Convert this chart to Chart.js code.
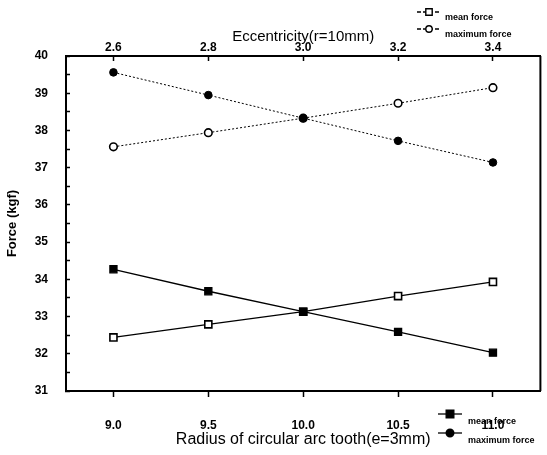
<!DOCTYPE html>
<html>
<head>
<meta charset="utf-8">
<script src="https://cdn.jsdelivr.net/npm/chart.js@4/dist/chart.umd.min.js"></script>
<style>
  html, body { margin: 0; padding: 0; background: #fff; }
  #wrap { width: 547px; height: 455px; position: relative; }
</style>
</head>
<body>
<div id="wrap"><canvas id="forceChart"></canvas></div>
<script>
// Data
// ----------------------------------------------
const radius        = [9.0, 9.5, 10.0, 10.5, 11.0];   // bottom axis, mm
const eccentricity  = [2.6, 2.8, 3.0, 3.2, 3.4];      // top axis, mm
const meanByRadius  = [34.27, 33.68, 33.13, 32.59, 32.03];
const maxByRadius   = [39.56, 38.95, 38.33, 37.72, 37.14];
const meanByEcc     = [32.44, 32.79, 33.13, 33.55, 33.93];
const maxByEcc      = [37.56, 37.94, 38.33, 38.73, 39.15];
const forceTicks    = [31, 32, 33, 34, 35, 36, 37, 38, 39, 40];

const ink      = "#000";
const family   = "'Liberation Sans', Arial, sans-serif";
const tickFont = { family: family, size: 12, weight: "bold" };

const toPoints = (xs, ys) => xs.map((x, i) => ({ x: x, y: ys[i] }));

const datasets = [
    { label: "mean force", xAxisID: "x", data: toPoints(radius, meanByRadius),
      borderColor: ink, backgroundColor: ink, borderWidth: 1.3,
      pointStyle: "rect", pointRadius: 5, legendGroup: "bottom" },
    { label: "maximum force", xAxisID: "x", data: toPoints(radius, maxByRadius),
      borderColor: ink, backgroundColor: ink, borderWidth: 1, borderDash: [2, 2],
      pointStyle: "circle", pointRadius: 3.8, legendGroup: "bottom" },
    { label: "mean force", xAxisID: "x2", data: toPoints(eccentricity, meanByEcc),
      borderColor: ink, backgroundColor: "#fff", borderWidth: 1.3, pointBorderWidth: 1.6,
      pointStyle: "rect", pointRadius: 5, legendGroup: "top" },
    { label: "maximum force", xAxisID: "x2", data: toPoints(eccentricity, maxByEcc),
      borderColor: ink, backgroundColor: "#fff", borderWidth: 1, borderDash: [2, 2], pointBorderWidth: 1.6,
      pointStyle: "circle", pointRadius: 3.8, legendGroup: "top" }
];

// Frame on the right side of the plot area
const framePlugin = {
    id: "frame",
    afterDraw(chart) {
        const { ctx, chartArea: a } = chart;
        ctx.save();
        ctx.strokeStyle = ink;
        ctx.lineWidth = 2;
        ctx.beginPath();
        ctx.moveTo(a.right, a.top);
        ctx.lineTo(a.right, a.bottom);
        ctx.stroke();
        ctx.restore();
    }
};

// Two small legends: top-right (open markers), bottom-right (filled markers)
const legendSpots = {
    top:    { x: 429, y: 12, dy: 17, textX: 445, textDy: 6 },
    bottom: { x: 450, y: 414, dy: 19, textX: 468, textDy: 8 }
};

function drawMarker(ctx, ds, x, y, r) {
    ctx.beginPath();
    if (ds.pointStyle === "rect") {
        ctx.rect(x - r, y - r, 2 * r, 2 * r);
    } else {
        ctx.arc(x, y, r, 0, Math.PI * 2);
    }
    ctx.fillStyle = ds.backgroundColor;
    ctx.fill();
    ctx.lineWidth = 1.4;
    ctx.strokeStyle = ds.borderColor;
    ctx.stroke();
}

const legendPlugin = {
    id: "twoLegends",
    afterDraw(chart) {
        const ctx = chart.ctx;
        ctx.save();
        Object.keys(legendSpots).forEach(group => {
            const spot = legendSpots[group];
            chart.data.datasets.filter(ds => ds.legendGroup === group).forEach((ds, i) => {
                const y = spot.y + i * spot.dy;
                ctx.strokeStyle = ink;
                ctx.lineWidth = 1.3;
                ctx.setLineDash(group === "top" ? [4, 2] : []);
                ctx.beginPath();
                ctx.moveTo(spot.x - 12, y);
                ctx.lineTo(spot.x + 12, y);
                ctx.stroke();
                ctx.setLineDash([]);
                drawMarker(ctx, ds, spot.x, y, group === "top" ? 3.2 : 3.8);
                ctx.fillStyle = ink;
                ctx.font = "bold 9px " + family;
                ctx.textBaseline = "middle";
                ctx.textAlign = "left";
                ctx.fillText(ds.label, spot.textX, y + spot.textDy);
            });
        });
        ctx.restore();
    }
};

new Chart(document.getElementById("forceChart"), {
    type: "line",
    data: { datasets: datasets },
    plugins: [framePlugin, legendPlugin],
    options: {
        responsive: true,
        maintainAspectRatio: false,
        animation: false,
        layout: { padding: { left: 0, right: 4, top: 0, bottom: 0 } },
        plugins: { legend: { display: false }, tooltip: { enabled: false } },
        elements: { line: { tension: 0, fill: false } },
        scales: {
            x: {
                type: "linear",
                position: "bottom",
                min: 8.75,
                max: 11.25,
                afterFit: s => { s.height = 64; },
                afterBuildTicks: s => { s.ticks = radius.map(v => ({ value: v })); },
                border: { color: ink, width: 2 },
                grid: { drawOnChartArea: false, color: ink, tickLength: 6, tickWidth: 1.5 },
                ticks: { color: ink, font: tickFont, padding: 21, maxRotation: 0,
                         callback: v => Number(v).toFixed(1) },
                title: { display: true, text: "Radius of circular arc tooth(e=3mm)",
                         color: ink, font: { family: family, size: 16 }, padding: { top: 0, bottom: 6 } }
            },
            x2: {
                type: "linear",
                position: "top",
                min: 2.5,
                max: 3.5,
                afterFit: s => { s.height = 56; },
                afterBuildTicks: s => { s.ticks = eccentricity.map(v => ({ value: v })); },
                border: { color: ink, width: 2 },
                grid: { drawOnChartArea: false, color: ink, tickLength: -5, tickWidth: 1.5 },
                ticks: { color: ink, font: tickFont, padding: 6, maxRotation: 0,
                         callback: v => Number(v).toFixed(1) },
                title: { display: true, text: "Eccentricity(r=10mm)",
                         color: ink, font: { family: family, size: 15 }, padding: { top: 28, bottom: 0 } }
            },
            y: {
                type: "linear",
                position: "left",
                min: 31,
                max: 40,
                afterFit: s => { s.width = 66; },
                afterBuildTicks: s => {
                    const t = [];
                    forceTicks.forEach((v, i) => {
                        t.push({ value: v });
                        if (i < forceTicks.length - 1) t.push({ value: v + 0.5 });
                    });
                    s.ticks = t;
                },
                border: { color: ink, width: 2 },
                grid: { drawOnChartArea: false, color: ink, tickLength: -4, tickWidth: 1.5 },
                ticks: { color: ink, font: tickFont, padding: 22,
                         callback: v => forceTicks.includes(v) ? String(v) : "" },
                title: { display: true, text: "Force (kgf)", color: ink,
                         font: { family: family, size: 13, weight: "bold" },
                         padding: { top: 5, bottom: 0 } }
            }
        }
    }
});
</script>
</body>
</html>
